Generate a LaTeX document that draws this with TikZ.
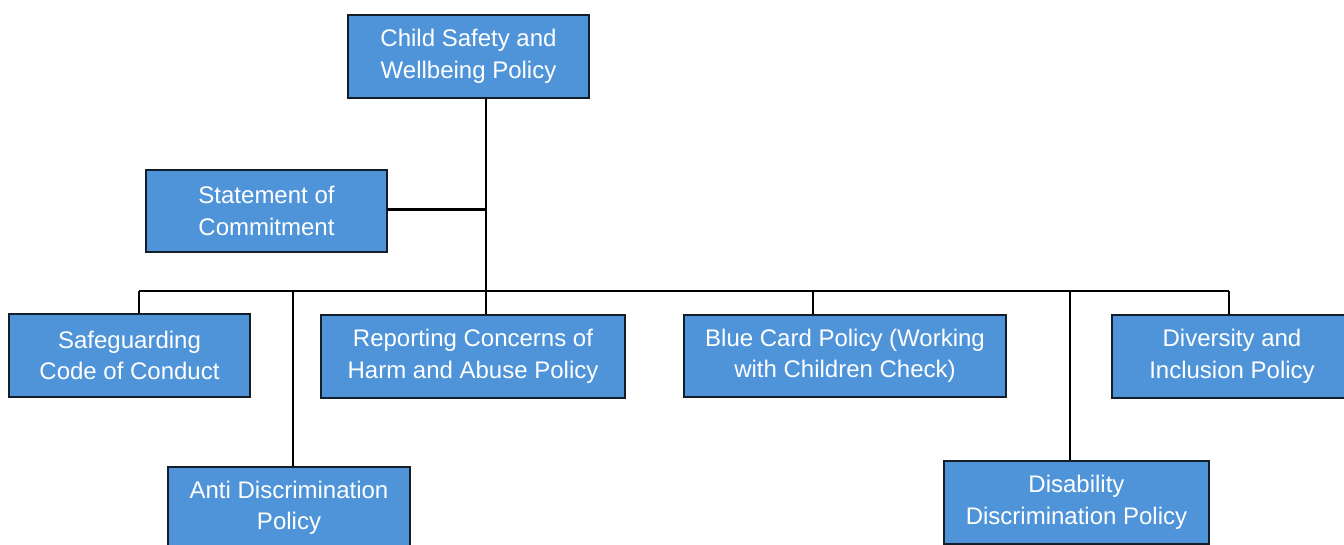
\documentclass[tikz,border=0pt]{standalone}
\usepackage{fontspec}
\setmainfont{Liberation Sans}
\definecolor{boxblue}{RGB}{79,148,217}
\definecolor{boxedge}{RGB}{20,30,40}
\begin{document}
\begin{tikzpicture}[x=1pt,y=-1pt,
  pbox/.style={draw=boxedge, line width=1.3pt, fill=boxblue, text=white, align=center,
    inner sep=0pt, font=\fontsize{24}{31.5}\selectfont},
  conn/.style={draw=black, line width=2.8pt}]
\useasboundingbox (0,0) rectangle (1344,545);
\node[pbox, minimum width=241, minimum height=83] (top) at (468.5,56.5) {Child Safety and\\Wellbeing Policy};
\node[pbox, minimum width=241, minimum height=82] (stmt) at (266.5,211) {Statement of\\Commitment};
\node[pbox, minimum width=241, minimum height=83] (safe) at (129.5,355.5) {Safeguarding\\Code of Conduct};
\node[pbox, minimum width=304, minimum height=83] (report) at (473,356.5) {Reporting Concerns of\\Harm and Abuse Policy};
\node[pbox, minimum width=322, minimum height=82] (blue) at (845,356) {Blue Card Policy (Working\\with Children Check)};
\node[pbox, minimum width=240, minimum height=83] (div) at (1232,356.5) {Diversity and\\Inclusion Policy};
\node[pbox, minimum width=242, minimum height=82] (anti) at (289,508) {Anti Discrimination\\Policy};
\node[pbox, minimum width=265, minimum height=83] (dis) at (1076.5,502.5) {Disability\\Discrimination Policy};
\coordinate (d1) at (139,291);
\coordinate (d2) at (293,291);
\coordinate (d3) at (486,291);
\coordinate (d4) at (813,291);
\coordinate (d5) at (1070,291);
\coordinate (d6) at (1229,291);
\coordinate (s) at (387,209.5);
\draw[conn] (top.south -| d3) -- (d3);
\draw[conn] (s) -- (s -| d3);
\draw[conn] (d1) -- (d6);
\draw[conn] (d1) -- (d1 |- safe.north);
\draw[conn] (d2) -- (d2 |- anti.north);
\draw[conn] (d3) -- (d3 |- report.north);
\draw[conn] (d4) -- (d4 |- blue.north);
\draw[conn] (d5) -- (d5 |- dis.north);
\draw[conn] (d6) -- (d6 |- div.north);
\end{tikzpicture}
\end{document}
